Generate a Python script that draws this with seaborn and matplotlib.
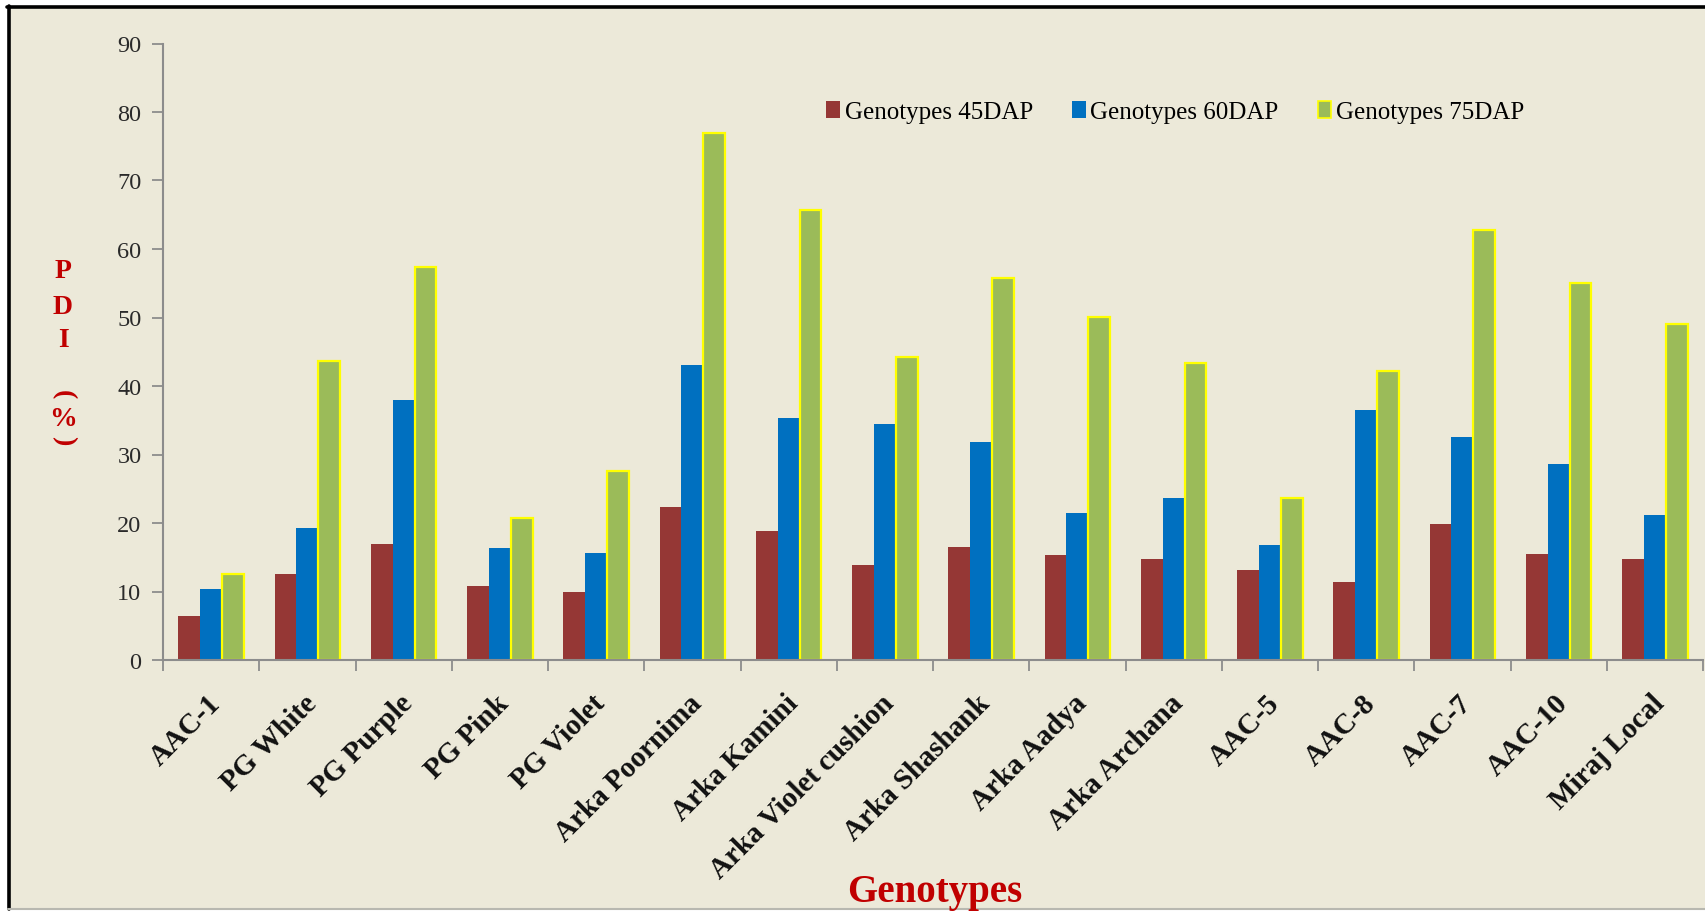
import numpy as np
import pandas as pd
import matplotlib
matplotlib.use("Agg")
import matplotlib.pyplot as plt
import matplotlib.transforms as mtransforms
from matplotlib.patches import Patch, Rectangle
from matplotlib.lines import Line2D
import seaborn as sns

# Percent disease index (PDI) per genotype at three crop stages
genotypes = ["AAC-1", "PG White", "PG Purple", "PG Pink", "PG Violet",
             "Arka Poornima", "Arka Kamini", "Arka Violet cushion",
             "Arka Shashank", "Arka Aadya", "Arka Archana", "AAC-5",
             "AAC-8", "AAC-7", "AAC-10", "Miraj Local"]
dap45 = [6.4, 12.5, 16.9, 10.8, 10.0, 22.4, 18.8, 13.8, 16.5, 15.3, 14.8,
         13.2, 11.4, 19.9, 15.5, 14.8]
dap60 = [10.4, 19.3, 38.0, 16.3, 15.6, 43.1, 35.3, 34.5, 31.8, 21.4, 23.7,
         16.8, 36.5, 32.6, 28.6, 21.2]
dap75 = [12.6, 43.6, 57.3, 20.8, 27.6, 76.9, 65.7, 44.3, 55.7, 50.1, 43.4,
         23.6, 42.2, 62.8, 55.1, 49.1]
series = ["Genotypes 45DAP", "Genotypes 60DAP", "Genotypes 75DAP"]
colors = ["#953735", "#0070C0", "#9BBB59"]
yticks = list(range(0, 91, 10))

df = pd.DataFrame({"Genotype": genotypes * 3,
                   "Stage": np.repeat(series, len(genotypes)),
                   "PDI": dap45 + dap60 + dap75})

sns.set_theme(style="white")
plt.rcParams["font.family"] = ["Liberation Serif", "DejaVu Serif"]

W, H = 1705, 912
fig = plt.figure(figsize=(W / 100, H / 100), dpi=100, facecolor="white")

# chart area panel with its frame
bg = "#ECE9D9"
fig.patches.append(Rectangle((8 / W, 2 / H), 1.0, (H - 10) / H, transform=fig.transFigure,
                             facecolor=bg, edgecolor="none", zorder=-5))
fig.add_artist(Line2D([8.5 / W, 8.5 / W], [2 / H, 1 - 7 / H], transform=fig.transFigure,
                      color="black", lw=2.6, zorder=-4))
fig.add_artist(Line2D([7 / W, 1.0], [1 - 8 / H, 1 - 8 / H], transform=fig.transFigure,
                      color="black", lw=2.6, zorder=-4))
fig.add_artist(Line2D([8 / W, 1.0], [2 / H, 2 / H], transform=fig.transFigure,
                      color="#B8B8B0", lw=1.5, zorder=-4))

ax = fig.add_axes([163 / W, 1 - 661 / H, (1703 - 163) / W, (661 - 44.5) / H])
ax.set_facecolor("none")
ax.set_zorder(2)

sns.barplot(data=df, x="Genotype", y="PDI", hue="Stage", hue_order=series,
            palette=colors, saturation=1, width=0.68, linewidth=0,
            legend=False, ax=ax)
for bar in ax.containers[2]:
    bar.set_edgecolor("#FFFF00")
    bar.set_linewidth(1.6)

ax.set_xlim(-0.5, len(genotypes) - 0.5)
ax.set_ylim(0, 90)
ax.set_yticks(yticks)
ax.set_xlabel("")
ax.set_ylabel("")

for side in ["top", "right"]:
    ax.spines[side].set_visible(False)
for side in ["left", "bottom"]:
    ax.spines[side].set_color("#8C8C8C")
    ax.spines[side].set_linewidth(1.5)

ax.tick_params(axis="y", which="major", left=True, direction="out", length=8,
               width=1.3, color="#8C8C8C", labelsize=17.5, labelcolor="#2A2A2A", pad=7.5)

# category labels at group centres, tick marks at group boundaries
ax.set_xticks(np.arange(len(genotypes)))
ax.set_xticklabels(genotypes, rotation=45, ha="right", va="center",
                   rotation_mode="anchor", fontsize=21, fontweight="bold", color="#111111")
ax.set_xticks(np.arange(-0.5, len(genotypes), 1), minor=True)
ax.tick_params(axis="x", which="major", length=0, pad=28)
ax.tick_params(axis="x", which="minor", bottom=True, direction="out", length=8,
               width=1.3, color="#8C8C8C")
shift = mtransforms.ScaledTranslation(0.05, 0, fig.dpi_scale_trans)
for lbl in ax.get_xticklabels():
    lbl.set_transform(lbl.get_transform() + shift)

# stacked y-axis title
red = "#C00000"
xl = 63 / W
for ch, yy, rot in [("P", 272, 0), ("D", 308, 0), ("I", 341, 0),
                    ("(", 395, -90), ("%", 420, 0), (")", 441, -90)]:
    fig.text(xl, 1 - yy / H, ch, color=red, fontsize=20, fontweight="bold",
             ha="center", va="center", rotation=rot)

fig.text(935 / W, 1 - 893 / H, "Genotypes", color=red, fontsize=28,
         fontweight="bold", ha="center", va="center")

handles = [Patch(facecolor=colors[0], edgecolor="none"),
           Patch(facecolor=colors[1], edgecolor="none"),
           Patch(facecolor=colors[2], edgecolor="#FFFF00", linewidth=1.2)]
fig.legend(handles, series, loc="center left", bbox_to_anchor=(826 / W, 1 - 113 / H),
           ncol=3, frameon=False, fontsize=18, handlelength=0.55, handleheight=0.7,
           handletextpad=0.2, columnspacing=1.55, borderpad=0, borderaxespad=0,
           labelcolor="black")

fig.savefig("out.png", dpi=100, facecolor="white")
